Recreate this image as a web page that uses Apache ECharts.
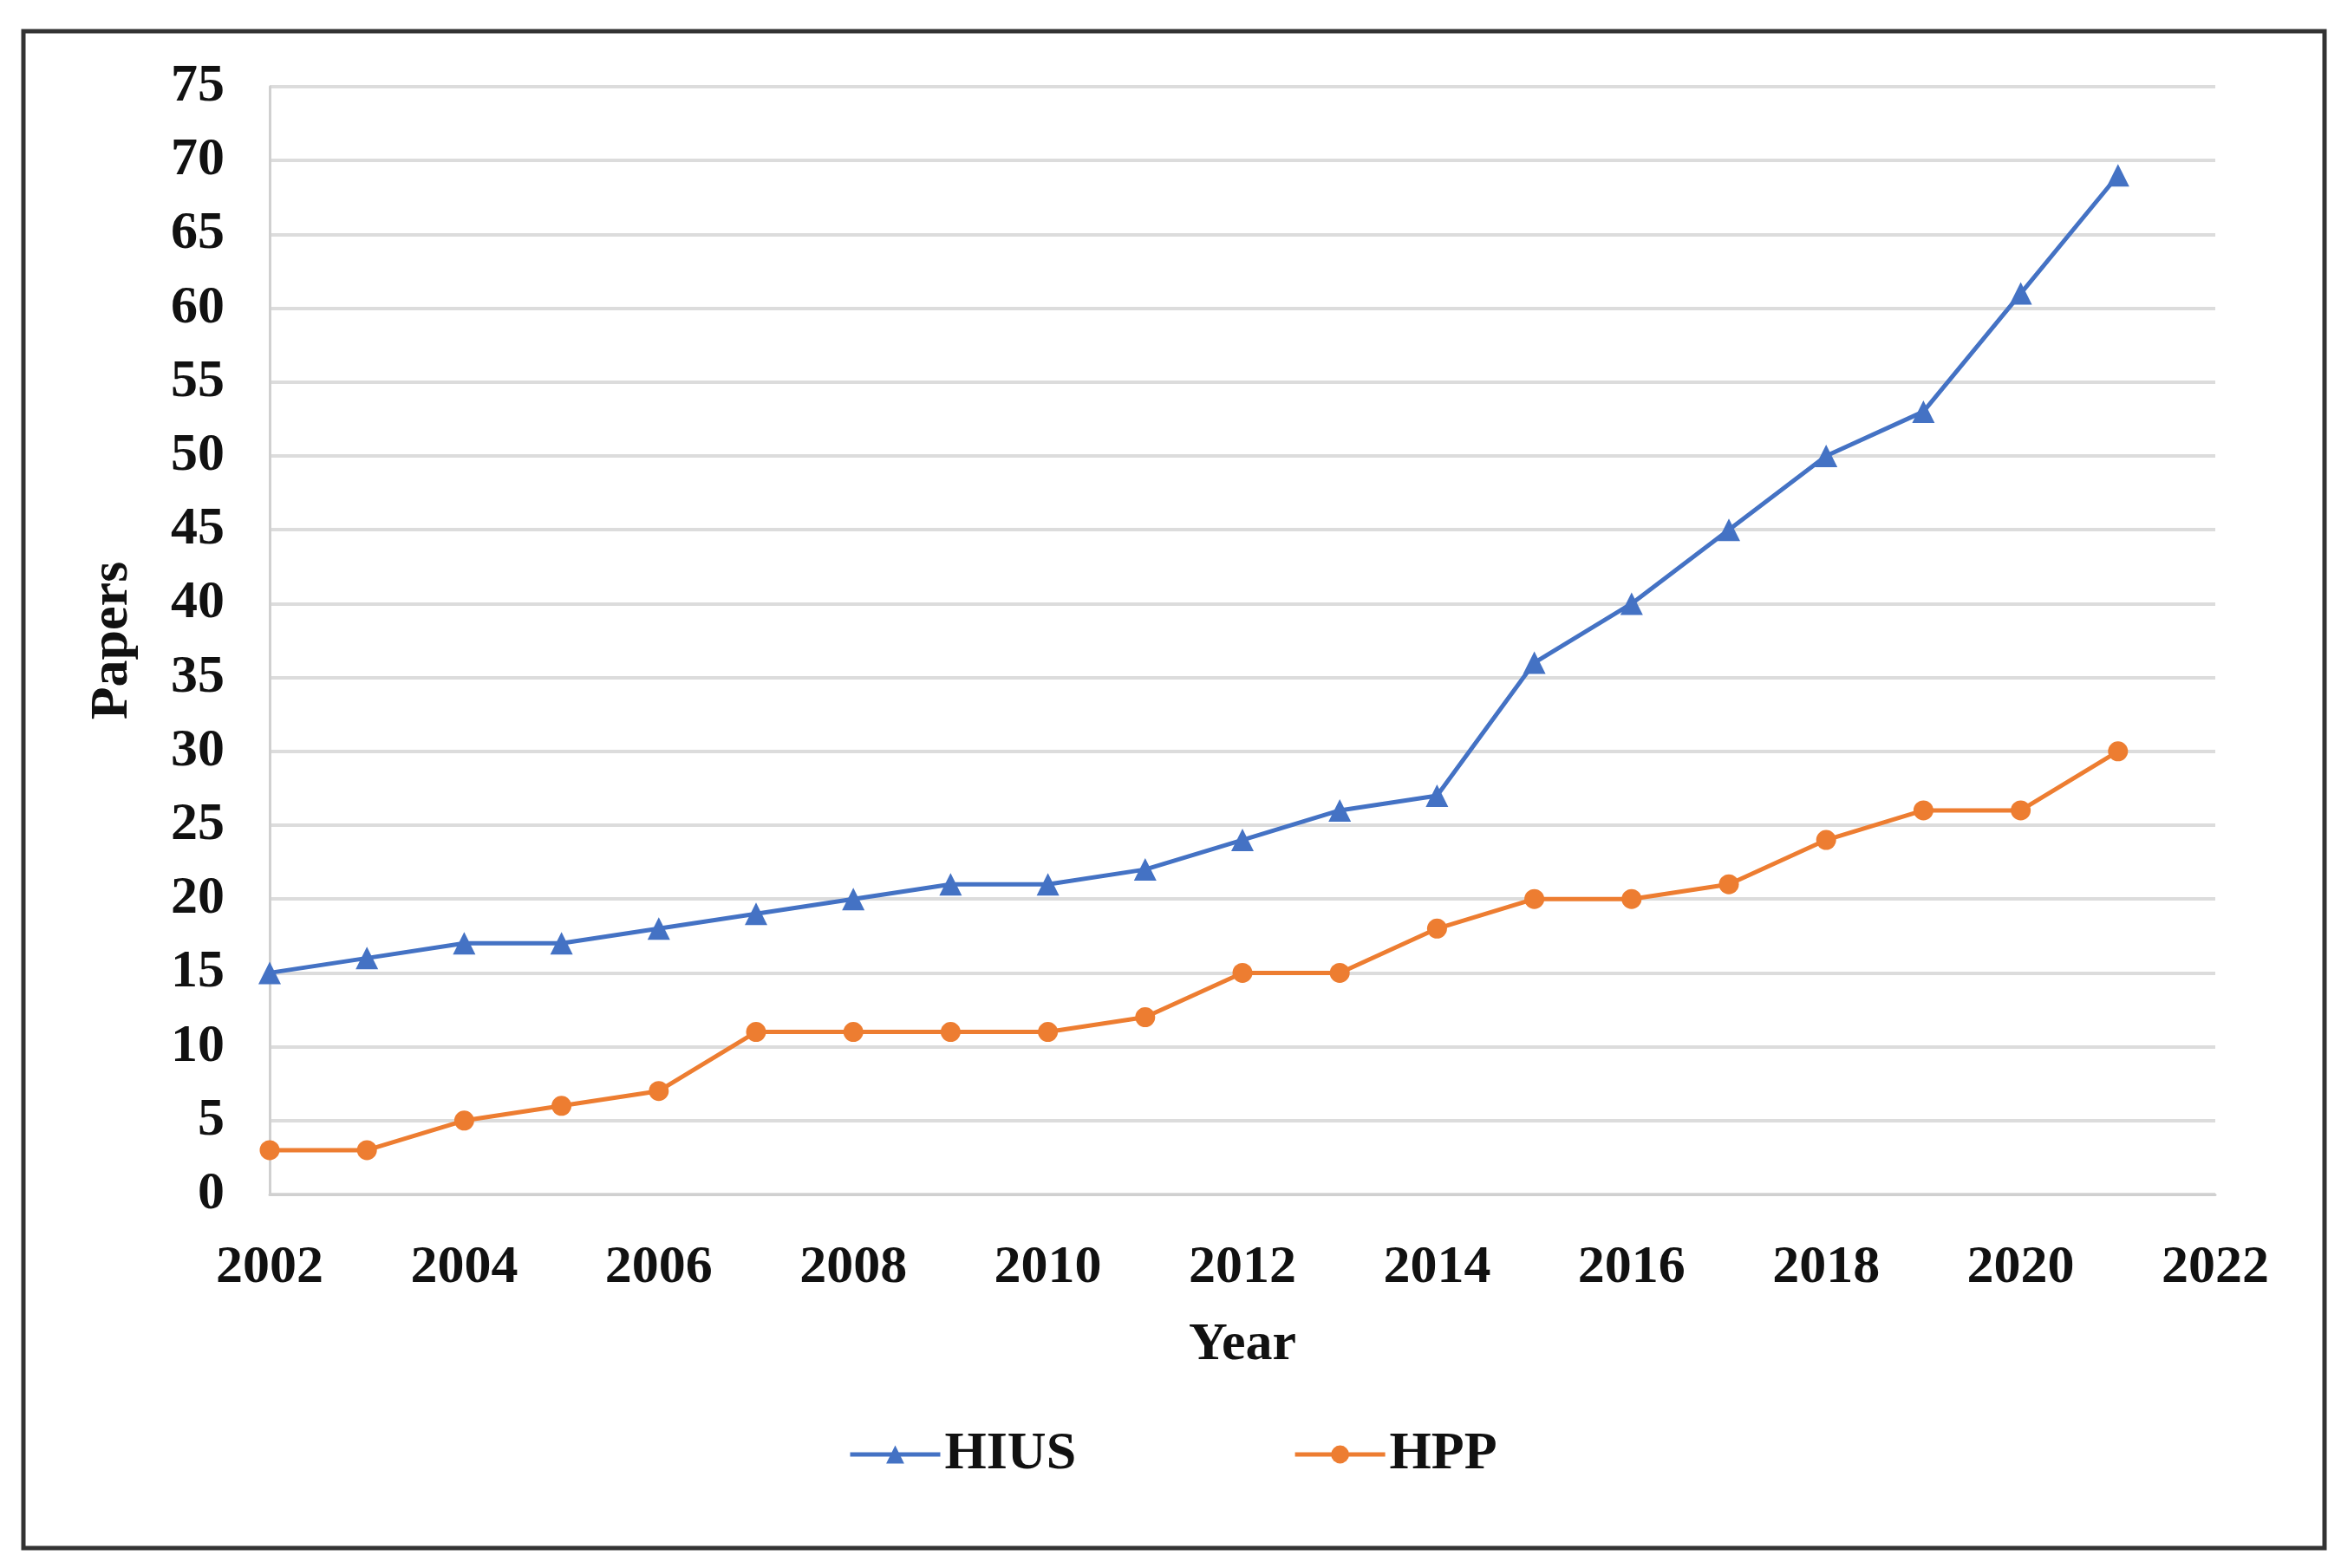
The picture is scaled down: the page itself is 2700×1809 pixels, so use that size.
<!DOCTYPE html>
<html>
<head>
<meta charset="utf-8">
<style>
html,body{margin:0;padding:0;background:#fff;}
#chart{width:2700px;height:1809px;}
</style>
<script src="https://cdn.jsdelivr.net/npm/echarts@6/dist/echarts.min.js"></script>
</head>
<body>
<div id="chart"></div>
<script>
const years = [2002,2003,2004,2005,2006,2007,2008,2009,2010,2011,2012,2013,2014,2015,2016,2017,2018,2019,2020,2021];
const hius = [15,16,17,17,18,19,20,21,21,22,24,26,27,36,40,45,50,53,61,69];
const hpp  = [3,3,5,6,7,11,11,11,11,12,15,15,18,20,20,21,24,26,26,30];
const seriesNames = ['HIUS','HPP'];

const font = 'Liberation Serif';
const txt = {fontFamily:font,fontWeight:'bold',fontSize:62,color:'#111'};
const chart = echarts.init(document.getElementById('chart'));
chart.setOption({
  backgroundColor:'#fff',
  animation:false,
  graphic:[{type:'rect',shape:{x:27,y:36,width:2654,height:1750},style:{fill:'none',stroke:'#333',lineWidth:5}}],
  grid:{left:311,right:145,top:100,bottom:431},
  legend:{
    data:seriesNames, left:973, top:1642, itemWidth:104, itemHeight:26, itemGap:250,
    lineStyle:{width:5},
    textStyle:txt
  },
  xAxis:{
    type:'value', min:2002, max:2022, interval:2,
    name:'Year', nameLocation:'middle', nameGap:143,
    nameTextStyle:txt,
    axisLine:{show:true,lineStyle:{color:'#d0d0d0',width:3}},
    axisTick:{show:false}, splitLine:{show:false},
    axisLabel:Object.assign({margin:54,formatter:v=>String(v)},txt)
  },
  yAxis:{
    type:'value', min:0, max:75, interval:5,
    name:'Papers', nameLocation:'middle', nameGap:150, nameRotate:90,
    nameTextStyle:txt,
    axisLine:{show:true,lineStyle:{color:'#d0d0d0',width:3}},
    axisTick:{show:false},
    splitLine:{lineStyle:{color:'#dcdcdc',width:4}},
    axisLabel:Object.assign({margin:52},txt)
  },
  series:[
    {name:seriesNames[0],type:'line',data:years.map((y,i)=>[y,hius[i]]),
     symbol:'triangle',symbolSize:26,color:'#4472C4',lineStyle:{width:5,color:'#4472C4'},itemStyle:{color:'#4472C4'}},
    {name:seriesNames[1],type:'line',data:years.map((y,i)=>[y,hpp[i]]),
     symbol:'circle',symbolSize:23,color:'#ED7D31',lineStyle:{width:5,color:'#ED7D31'},itemStyle:{color:'#ED7D31'}}
  ]
});
</script>
</body>
</html>
